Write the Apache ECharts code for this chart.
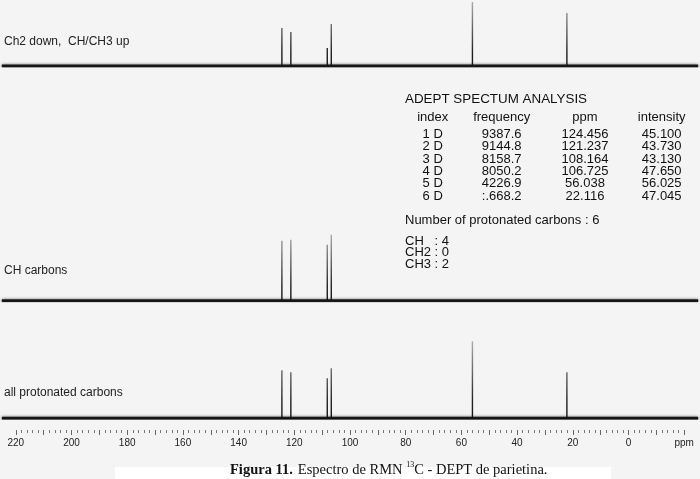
<!DOCTYPE html>
<html>
<head>
<meta charset="utf-8">
<title>DEPT 13C parietina</title>
<script src="https://cdn.jsdelivr.net/npm/echarts@6/dist/echarts.min.js"></script>
<style>
  html, body { margin: 0; padding: 0; background: #f4f4f4; }
  #chart { width: 700px; height: 479px; }
</style>
</head>
<body>
<div id="chart"></div>
<script>
const peakPpm = [124.456, 121.237, 108.164, 106.725, 56.038, 22.116];
const deptHeights = [38, 34, 18, 42, 64, 53];
const chHeights = [60, 61, 56, 66, 0, 0];
const allHeights = [48, 46, 40, 50, 77, 46];
const traceLabels = ['Ch2 down,  CH/CH3 up', 'CH carbons', 'all protonated carbons'];

// tabla del análisis
const tableTitle = 'ADEPT SPECTUM ANALYSIS';
const tableHeaders = ['index', 'frequency', 'ppm', 'intensity'];
const tableIndex = ['1 D', '2 D', '3 D', '4 D', '5 D', '6 D'];
const tableFreq = ['9387.6', '9144.8', '8158.7', '8050.2', '4226.9', ':.668.2'];
const tablePpm = ['124.456', '121.237', '108.164', '106.725', '56.038', '22.116'];
const tableIntensity = ['45.100', '43.730', '43.130', '47.650', '56.025', '47.045'];
const protonatedText = 'Number of protonated carbons : 6';
const carbonTypes = ['CH   : 4', 'CH2 : 0', 'CH3 : 2'];

const FONT = "'Liberation Sans', Arial, sans-serif";
const SERIF = "'Liberation Serif', 'Times New Roman', serif";
const chart = echarts.init(document.getElementById('chart'));

function peakData(heights) {
  const d = [[225, 0]];
  peakPpm.forEach((p, i) => {
    if (heights[i] > 0) d.push([p, 0], [p, heights[i]], [p, 0]);
  });
  d.push([-25, 0]);
  return d;
}

// baseline (px) y altura de cada panel
const panels = [
  { base: 66, h: 66, data: deptHeights },
  { base: 300.7, h: 80, data: chHeights },
  { base: 418.3, h: 80, data: allHeights }
];

const grids = panels.map(p => ({ left: 1.9, right: 1.9, top: p.base - p.h, height: p.h }));
grids.push({ left: 15.8, right: 15.8, top: 420, height: 10 });

const xAxes = panels.map((p, i) => ({
  type: 'value', gridIndex: i, min: -25, max: 225, inverse: true, show: false
}));
xAxes.push({
  type: 'value', gridIndex: 3, min: -20, max: 220, interval: 10, inverse: true,
  axisLine: { show: false },
  splitLine: { show: false },
  axisTick: { length: 5, lineStyle: { color: '#666', width: 1 } },
  minorTick: { show: true, splitNumber: 5, length: 3, lineStyle: { color: '#777', width: 1 } },
  axisLabel: {
    margin: 8, fontFamily: FONT, fontSize: 10, color: '#222',
    formatter: v => (v === -20 ? 'ppm' : (v % 20 === 0 ? String(v) : ''))
  }
});

const yAxes = panels.map((p, i) => ({ type: 'value', gridIndex: i, min: 0, max: p.h, show: false }));
yAxes.push({ type: 'value', gridIndex: 3, show: false });

const peakColor = new echarts.graphic.LinearGradient(0, 0, 0, 1, [
  { offset: 0, color: '#b0b0b0' },
  { offset: 0.4, color: '#666' },
  { offset: 0.75, color: '#222' },
  { offset: 1, color: '#111' }
]);

const series = [];
panels.forEach((p, i) => {
  series.push({
    type: 'line', xAxisIndex: i, yAxisIndex: i, silent: true, symbol: 'none',
    data: [[225, 0], [-25, 0]],
    lineStyle: { color: '#1e1e1e', width: 3, shadowBlur: 3, shadowColor: 'rgba(0,0,0,0.6)' }, z: 2
  });
  series.push({
    type: 'line', xAxisIndex: i, yAxisIndex: i, silent: true, symbol: 'none',
    data: peakData(p.data), clip: false,
    lineStyle: { color: peakColor, width: 1.4 }, z: 3
  });
});

// textos
const graphic = [];
const labelY = [41.7, 271, 393];
traceLabels.forEach((t, i) => {
  graphic.push({ type: 'text', x: 4, y: labelY[i],
    style: { text: t, font: '12px ' + FONT, fill: '#222', textVerticalAlign: 'middle' } });
});

graphic.push({ type: 'text', x: 405, y: 99,
  style: { text: tableTitle, font: '13.4px ' + FONT, fill: '#111', textVerticalAlign: 'middle' } });

const colX = [432.7, 501.7, 585, 661.7];
tableHeaders.forEach((h, c) => {
  graphic.push({ type: 'text', x: colX[c], y: 117.3,
    style: { text: h, font: '13px ' + FONT, fill: '#111', textAlign: 'center', textVerticalAlign: 'middle' } });
});
const cols = [tableIndex, tableFreq, tablePpm, tableIntensity];
cols.forEach((col, c) => {
  col.forEach((v, r) => {
    graphic.push({ type: 'text', x: colX[c], y: 134.3 + r * 12.4,
      style: { text: v, font: '13px ' + FONT, fill: '#111', textAlign: 'center', textVerticalAlign: 'middle' } });
  });
});
graphic.push({ type: 'text', x: 405, y: 220,
  style: { text: protonatedText, font: '13px ' + FONT, fill: '#111', textVerticalAlign: 'middle' } });
carbonTypes.forEach((t, r) => {
  graphic.push({ type: 'text', x: 405, y: 241 + r * 11.6,
    style: { text: t, font: '13px ' + FONT, fill: '#111', textVerticalAlign: 'middle' } });
});

// recuadro blanco del pie de figura
graphic.push({ type: 'rect', shape: { x: 115, y: 467, width: 496, height: 12 },
  style: { fill: '#ffffff' }, z: -1 });

chart.setOption({
  backgroundColor: '#f4f4f4',
  animation: false,
  title: {
    left: 225, top: 456,
    text: '{b|Figura 11.} {n|Espectro de RMN }{s|13}{n|C - DEPT de parietina.}',
    textStyle: {
      fontWeight: 'normal',
      rich: {
        b: { fontFamily: SERIF, fontSize: 14.5, fontWeight: 'bold', color: '#111' },
        n: { fontFamily: SERIF, fontSize: 14.5, fontWeight: 'normal', color: '#111' },
        s: { fontFamily: SERIF, fontSize: 8, fontWeight: 'normal', color: '#111', verticalAlign: 'top', padding: [0, 0, 6, 0] }
      }
    }
  },
  grid: grids,
  xAxis: xAxes,
  yAxis: yAxes,
  series: series,
  graphic: graphic
});
</script>
</body>
</html>
